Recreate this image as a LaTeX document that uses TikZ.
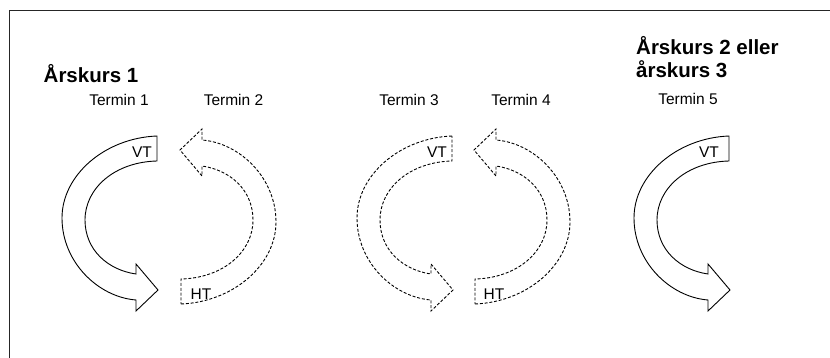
\documentclass[tikz,border=0pt]{standalone}
\usepackage{fontspec}
\setmainfont{Liberation Sans}
\begin{document}
\begin{tikzpicture}[x=1pt,y=1pt,yscale=-1,
  heading/.style={font=\fontsize{20.5}{23.5}\selectfont\bfseries, anchor=base west, inner sep=0pt, align=left},
  term/.style={font=\fontsize{15.5}{18}\selectfont, anchor=base, inner sep=0pt},
  lbl/.style={font=\fontsize{15.5}{18}\selectfont, inner sep=0pt},
  solidarrow/.style={draw=black, line width=0.9pt, line join=miter, transform shape},
  dasharrow/.style={draw=black, line width=0.9pt, dash pattern=on 3pt off 1.8pt, transform shape},
  curvarrow/.pic={
    \draw[pic actions] (0,-81) .. controls (-52,-79) and (-95,-42) .. (-95,1)
      .. controls (-95,45) and (-59,80) .. (-21,83)
      -- (-21,94) -- (1,73) -- (-21,47) -- (-21,57)
      .. controls (-49,53) and (-72,33) .. (-72,3)
      .. controls (-72,-29) and (-42,-55) .. (0,-56) -- cycle;
  }]
\useasboundingbox (0,0) rectangle (830,358);
% frame
\draw[line width=1.3pt, draw=black!85] (9.5,358) -- (9.5,10.5) -- (830,10.5);
% headings
\node[heading] (ak1) at (43.5,83) {Årskurs 1};
\node[heading] (ak23) at (636,78) {Årskurs 2 eller\\årskurs 3};
% terms
\node[term] (t1) at (119,106) {Termin 1};
\node[term] (t2) at (233.5,106) {Termin 2};
\node[term] (t3) at (409,106) {Termin 3};
\node[term] (t4) at (521,106) {Termin 4};
\node[term] (t5) at (688,105) {Termin 5};
% arrows
\pic[solidarrow] at (157,217) {curvarrow};
\pic[dasharrow, rotate=180] at (181,223) {curvarrow};
\pic[dasharrow] at (452,217) {curvarrow};
\pic[dasharrow, rotate=180] at (475,223) {curvarrow};
\pic[solidarrow] at (729,217) {curvarrow};
% labels
\node[lbl] (vt1) at (142,152) {VT};
\node[lbl] (ht2) at (201,294) {HT};
\node[lbl] (vt3) at (437,152) {VT};
\node[lbl] (ht4) at (494,294) {HT};
\node[lbl] (vt5) at (709,152) {VT};
\end{tikzpicture}
\end{document}
